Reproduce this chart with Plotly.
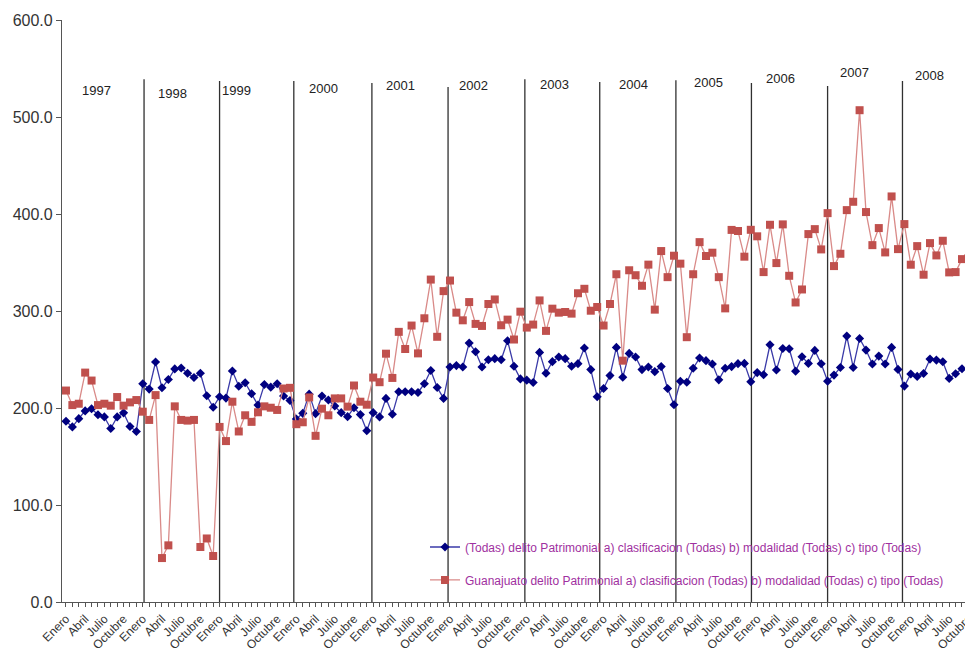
import plotly.graph_objects as go

# ---------------- data ----------------
month_labels = ["Enero", "Abril", "Julio", "Octubre"]

todas = [
    186.3, 180.5, 189.0, 197.0, 199.3, 193.0, 190.8, 178.8, 190.8, 195.0, 181.0, 175.8,
    225.0, 219.5, 247.4, 220.8, 229.4, 240.3, 241.3, 235.8, 231.4, 235.8, 212.6, 200.7,
    211.6, 210.2, 238.2, 222.5, 226.0, 214.7, 203.0, 224.2, 221.5, 225.0, 212.3, 207.8,
    188.7, 194.5, 214.3, 194.2, 212.3, 208.2, 202.0, 195.2, 191.1, 200.3, 193.2, 176.5,
    195.2, 190.8, 209.9, 193.5, 216.7, 216.7, 216.7, 216.0, 225.0, 238.6, 221.2, 209.9,
    242.3, 243.7, 242.3, 266.9, 258.0, 242.3, 249.8, 250.9, 249.8, 269.3, 243.0, 230.0,
    228.7, 226.3, 257.3, 235.8, 247.8, 252.6, 250.9, 243.0, 245.7, 261.8, 239.6, 211.6,
    220.1, 233.4, 262.5, 231.7, 256.3, 252.6, 239.6, 242.3, 237.5, 242.7, 220.1, 203.4,
    227.6, 226.6, 241.0, 251.5, 248.8, 245.4, 229.0, 241.0, 242.7, 245.7, 246.0, 227.0,
    236.5, 234.3, 265.2, 239.1, 261.4, 261.1, 238.0, 252.8, 246.0, 259.4, 245.6, 227.7,
    233.9, 241.8, 274.1, 241.8, 271.7, 259.7, 245.3, 253.5, 245.3, 262.5, 239.8, 222.6,
    235.0, 232.6, 235.6, 250.4, 249.4, 247.7, 230.5, 235.3, 240.5, 239.8,
]

guanajuato = [
    218.0, 203.0, 204.4, 236.5, 228.3, 203.0, 204.4, 202.4, 211.3, 202.4, 205.8, 208.2,
    196.2, 187.7, 213.3, 45.3, 58.4, 201.7, 187.7, 187.0, 187.7, 56.7, 65.5, 47.4,
    180.5, 165.9, 206.5, 175.8, 192.5, 185.7, 195.6, 201.7, 200.3, 198.0, 220.1, 220.8,
    183.3, 185.3, 210.9, 171.3, 199.3, 192.5, 209.9, 209.9, 201.4, 223.2, 206.5, 203.4,
    231.4, 226.6, 256.0, 231.0, 278.5, 260.8, 285.0, 256.3, 292.5, 332.4, 273.4, 320.5,
    331.4, 298.3, 290.4, 309.2, 286.7, 284.6, 307.2, 311.9, 285.3, 291.1, 270.6, 299.3,
    282.9, 286.0, 310.9, 279.5, 302.4, 298.3, 299.0, 297.3, 318.3, 322.9, 300.3, 304.1,
    285.0, 307.2, 337.9, 248.8, 342.0, 336.9, 326.0, 347.8, 301.4, 361.8, 334.9, 357.0,
    348.8, 273.0, 337.9, 371.0, 356.7, 360.1, 334.9, 302.7, 383.6, 382.5, 356.0, 383.7,
    377.0, 340.1, 388.9, 349.4, 389.3, 336.3, 308.8, 322.2, 379.3, 384.4, 363.5, 400.9,
    346.3, 359.0, 404.0, 412.6, 507.0, 402.0, 367.9, 385.5, 360.4, 418.1, 363.8, 389.6,
    347.7, 366.9, 337.4, 370.0, 357.3, 372.4, 339.8, 340.1, 353.5, 354.5,
]

years = [str(y) for y in range(1997, 2009)]
# hand-drawn year separators (position in months, top value)
sep_pos = [12.2, 24.0, 35.6, 47.8, 59.7, 71.7, 83.4, 95.3, 107.1, 119.0, 130.7]
sep_top = [539, 537, 537, 535, 531, 539, 536, 538, 535, 532, 537]
# year label anchors (position in months, value)
year_label_pos = [4.8, 16.6, 26.7, 40.2, 52.3, 63.6, 76.4, 88.6, 100.4, 111.6, 123.2, 134.9]
year_label_val = [527, 524, 527, 529, 532, 532, 534, 534, 536, 540, 546, 543]

name_todas = "(Todas) delito Patrimonial a) clasificacion (Todas) b) modalidad (Todas) c) tipo (Todas)"
name_gto = "Guanajuato delito Patrimonial a) clasificacion (Todas) b) modalidad (Todas) c) tipo (Todas)"

# ---------------- figure ----------------
fig = go.Figure()
fig.add_trace(go.Scatter(
    x=list(range(len(todas))), y=todas, mode="lines+markers", name=name_todas,
    line=dict(color="#3a3aa8", width=1.3),
    marker=dict(symbol="diamond", size=7, color="#000080"),
    legend="legend",
))
fig.add_trace(go.Scatter(
    x=list(range(len(guanajuato))), y=guanajuato, mode="lines+markers", name=name_gto,
    line=dict(color="#d98a88", width=1.3),
    marker=dict(symbol="square", size=8, color="#c0504d"),
    legend="legend2",
))

for p, t in zip(sep_pos, sep_top):
    fig.add_shape(type="line", x0=p, x1=p, y0=0, y1=t, xref="x", yref="y",
                  line=dict(color="#303030", width=1.3), layer="below")

for yr, p, v in zip(years, year_label_pos, year_label_val):
    fig.add_annotation(x=p, y=v, text=yr, showarrow=False, xref="x", yref="y",
                       font=dict(size=13, color="#222222", family="Arial, Liberation Sans"))

n = len(todas)
tickvals = list(range(0, n + 2, 3))
ticktext = [month_labels[(i // 3) % 4] for i in tickvals]

# plot area runs past the window's right edge, as in the reference (cropped chart)
fig.update_layout(
    width=973, height=654,
    margin=dict(l=54, r=0, t=12, b=60),
    paper_bgcolor="white", plot_bgcolor="white",
    font=dict(family="Arial, Liberation Sans", color="#333333"),
    showlegend=True,
    legend=dict(x=0.395, y=0.0945, xanchor="left", yanchor="middle",
                bgcolor="rgba(0,0,0,0)", font=dict(size=12, color="#a030a0")),
    legend2=dict(x=0.395, y=0.038, xanchor="left", yanchor="middle",
                 bgcolor="rgba(0,0,0,0)", font=dict(size=12, color="#a030a0")),
    xaxis=dict(
        range=[-0.62, 142.97], showgrid=False, zeroline=False,
        showline=True, linecolor="#555555", linewidth=1.2,
        tickmode="array", tickvals=tickvals, ticktext=ticktext,
        tickangle=-45, ticks="outside", ticklen=4, tickcolor="#555555",
        tickfont=dict(size=12, color="#333333"),
        minor=dict(dtick=1, tick0=0, ticks="outside", ticklen=4, tickcolor="#555555"),
        automargin=False,
    ),
    yaxis=dict(
        range=[0, 600], dtick=100, tickformat=".1f", showgrid=False, zeroline=False,
        showline=True, linecolor="#555555", linewidth=1.2,
        ticks="outside", ticklen=5, tickcolor="#555555",
        tickfont=dict(size=16, color="#333333"), automargin=False,
    ),
)

fig.write_html("out.html")
